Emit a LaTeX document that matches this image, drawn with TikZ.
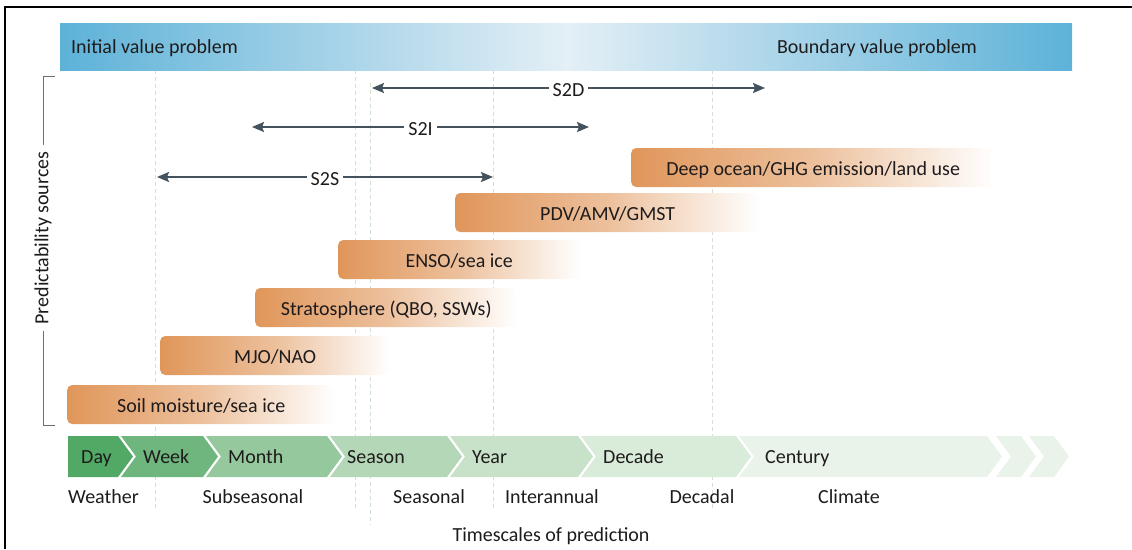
\documentclass[tikz,border=0pt]{standalone}
\usepackage{fontspec}
\setmainfont{Carlito}
\usetikzlibrary{arrows.meta}

\definecolor{inkText}{HTML}{1E1B1C}
\definecolor{barBlue}{HTML}{5DB2D8}
\definecolor{barBlueLight}{HTML}{E4EFF6}
\definecolor{srcOrange}{HTML}{E0965A}
\definecolor{arrowSlate}{HTML}{44525E}
\definecolor{guideGreen}{HTML}{D2E2D2}
\definecolor{bracketGray}{HTML}{6D6E70}
\definecolor{chDay}{HTML}{52A865}
\definecolor{chWeek}{HTML}{6EB67D}
\definecolor{chMonth}{HTML}{95C89D}
\definecolor{chSeason}{HTML}{B4D8B7}
\definecolor{chYear}{HTML}{C7E2C8}
\definecolor{chDecade}{HTML}{D9EBD9}
\definecolor{chCentury}{HTML}{EAF3EA}

\tikzset{
  lbl/.style={font=\fontsize{20}{24}\selectfont, text=inkText, inner sep=0pt},
  srcbar/.style={lbl, anchor=west, rounded corners=5pt, left color=srcOrange, right color=white,
    middle color=srcOrange!60!white, minimum height=39pt, text height=15pt, text depth=0pt},
  rangearrow/.style={{Stealth[length=12pt,width=10pt,inset=2pt]}-{Stealth[length=12pt,width=10pt,inset=2pt]},
    line width=1.8pt, arrowSlate},
  rangelbl/.style={lbl, fill=white, inner xsep=4pt, inner ysep=2pt, yshift=-2pt},
  guide/.style={guideGreen, line width=0.8pt, dash pattern=on 4pt off 3pt},
}

\begin{document}
\begin{tikzpicture}[x=1pt, y=-1pt]
\useasboundingbox (0,0) rectangle (1132,549);
% frame
\draw[line width=1.5pt] (5,549) -- (5,7) -- (1132,7);

% guide lines
\foreach \gx/\gt/\gb in {155/70/508, 355/70/508, 370/83/525, 493/70/510, 712/70/510}
  \draw[guide] (\gx,\gt) -- (\gx,\gb);

% value problem bar
\node[anchor=north west, inner sep=0pt, minimum width=1012pt, minimum height=47pt,
  left color=barBlue, right color=barBlue, middle color=barBlueLight] (valuebar) at (60,23) {};
\node[lbl, anchor=base west] (ivp) at (71,53) {Initial value problem};
\node[lbl, anchor=base east] (bvp) at (977,53) {Boundary value problem};

% prediction ranges
\coordinate (s2dL) at (372,88);  \coordinate (s2dR) at (765,88);
\coordinate (s2iL) at (252,127); \coordinate (s2iR) at (589,127);
\coordinate (s2sL) at (157,177); \coordinate (s2sR) at (493,177);
\draw[rangearrow] (s2dL) -- node[rangelbl] (s2d) {S2D} (s2dR);
\draw[rangearrow] (s2iL) -- node[rangelbl] (s2i) {S2I} (s2iR);
\draw[rangearrow] (s2sL) -- node[rangelbl] (s2s) {S2S} (s2sR);

% predictability sources
\node[srcbar, minimum width=364pt] (deep) at (631,167.5) {Deep ocean/GHG emission/land use};
\node[srcbar, minimum width=305pt] (pdv) at (455,212.5) {PDV/AMV/GMST};
\node[srcbar, minimum width=242pt] (enso) at (338,259.5) {ENSO/sea ice};
\node[srcbar, minimum width=262pt] (strat) at (255,307.5) {Stratosphere (QBO, SSWs)};
\node[srcbar, minimum width=230pt] (mjo) at (160,355.5) {MJO/NAO};
\node[srcbar, minimum width=268pt] (soil) at (67,404.5) {Soil moisture/sea ice};

% bracket
\node[lbl, rotate=90, fill=white, inner sep=6pt] (srclab) at (43,238) {Predictability sources};
\coordinate (brTop) at (43,76);
\coordinate (brBot) at (43,425);
\draw[bracketGray, line width=0.9pt] ([xshift=12pt]brTop) -- (brTop) -- (srclab.east);
\draw[bracketGray, line width=0.9pt] (srclab.west) -- (brBot) -- ([xshift=12pt]brBot);

% timescale chevrons
\fill[chDay] (68,436) -- (118,436) -- (133,456.5) -- (118,477) -- (68,477) -- cycle;
\node[lbl, anchor=base west] (day) at (81,463) {Day};
\foreach \xa/\xb/\xt/\col/\txt/\nm in {121/203/143/chWeek/Week/week, 206/327/228/chMonth/Month/month,
    330/447/347/chSeason/Season/season, 450/578/472/chYear/Year/year,
    581/736/603/chDecade/Decade/decade, 739/987/765/chCentury/Century/century} {
  \fill[\col] (\xa,436) -- (\xb,436) -- (\xb+15,456.5) -- (\xb,477) -- (\xa,477) -- (\xa+15,456.5) -- cycle;
  \node[lbl, anchor=base west] (\nm) at (\xt,463) {\txt};
}
\foreach \xa in {996,1029}
  \fill[chCentury] (\xa,436) -- (\xa+25,436) -- (\xa+40,456.5) -- (\xa+25,477) -- (\xa,477) -- (\xa+15,456.5) -- cycle;

% prediction types
\node[lbl, anchor=base west] (weather) at (68,503) {Weather};
\node[lbl, anchor=base] (subseas) at (253,503) {Subseasonal};
\node[lbl, anchor=base] (seas) at (429,503) {Seasonal};
\node[lbl, anchor=base] (interann) at (552,503) {Interannual};
\node[lbl, anchor=base] (decadal) at (702,503) {Decadal};
\node[lbl, anchor=base] (climate) at (849,503) {Climate};
\node[lbl, anchor=base] (timescales) at (551,541) {Timescales of prediction};
\end{tikzpicture}
\end{document}
